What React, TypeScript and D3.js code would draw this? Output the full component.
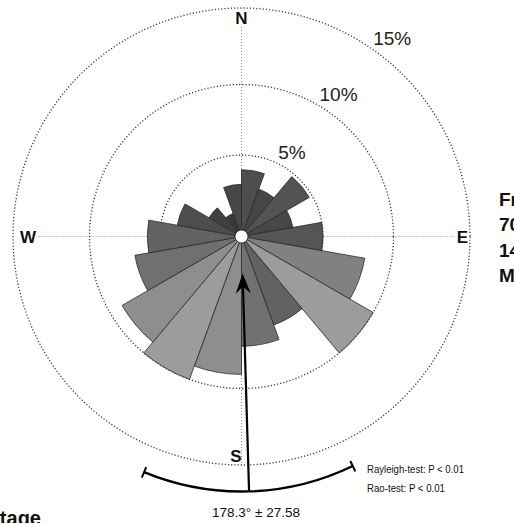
import React from 'react';
import * as d3 from 'd3';

// ---- data ----
const binStartDeg = [0, 20, 40, 60, 80, 100, 120, 140, 160, 180, 200, 220, 240, 260, 280, 300, 320, 340];
const binPercent = [4.1, 3.1, 4.8, 3.2, 5.0, 8.1, 10.0, 5.9, 7.0, 9.0, 10.0, 9.0, 6.9, 5.9, 4.0, 2.3, 1.5, 3.2];
const binWidthDeg = 20;
const ringValues = [5, 10, 15];
const ringLabels = ['5%', '10%', '15%'];
const compassLabels = ['N', 'E', 'S', 'W'];
const meanAngleDeg = 178.3;
const angularSD = 27.58;
const meanLabel = '178.3° ± 27.58';
const statLines = ['Rayleigh-test: P < 0.01', 'Rao-test: P < 0.01'];
const sideLines = ['Fr', '70', '14', 'M'];
const bottomLabel = 'Percentage';

// ---- layout ----
const W = 514;
const H = 523;
const cx = 241.5;
const cy = 236.5;
const FONT = 'Liberation Sans, Arial, sans-serif';

const rScale = d3.scaleLinear().domain([0, 5, 10, 15]).range([0, 81.5, 152, 228.5]);
const fillScale = d3
  .scaleLinear<string>()
  .domain([1.5, 5, 10])
  .range(['#3a3a3a', '#555555', '#9c9c9c']);

const rad = (d: number) => (d * Math.PI) / 180;
const polar = (r: number, deg: number): [number, number] => [
  cx + r * Math.sin(rad(deg)),
  cy - r * Math.cos(rad(deg)),
];

export default function App() {
  const arcGen = d3.arc<any>();
  const outer = rScale(15);

  // mean vector / error arc geometry
  const arcR = 255;
  const arcHalf = angularSD * 0.876;
  const errArc = d3
    .arc<any>()
    .innerRadius(arcR)
    .outerRadius(arcR)({
      startAngle: rad(meanAngleDeg - arcHalf),
      endAngle: rad(meanAngleDeg + arcHalf),
    } as any);

  const tip = polar(37, meanAngleDeg);
  const notch = polar(50, meanAngleDeg);
  const baseC = polar(57, meanAngleDeg);
  const perp = rad(meanAngleDeg + 90);
  const hw = 7.5;
  const barbL: [number, number] = [baseC[0] - hw * Math.sin(perp), baseC[1] + hw * Math.cos(perp)];
  const barbR: [number, number] = [baseC[0] + hw * Math.sin(perp), baseC[1] - hw * Math.cos(perp)];
  const lineStart = polar(50, meanAngleDeg);
  const lineEnd = polar(arcR, meanAngleDeg);

  const tickA1 = polar(arcR - 5.5, meanAngleDeg - arcHalf);
  const tickA2 = polar(arcR + 6, meanAngleDeg - arcHalf);
  const tickB1 = polar(arcR - 5.5, meanAngleDeg + arcHalf);
  const tickB2 = polar(arcR + 6, meanAngleDeg + arcHalf);

  return (
    <svg
      width={W}
      height={H}
      style={{ position: 'absolute', left: 0, top: 0, background: '#fff', overflow: 'hidden' }}
      fontFamily={FONT}
    >
      <rect x={0} y={0} width={W} height={H} fill="#fff" />

      {/* axis cross lines */}
      <line x1={cx - 203} y1={cy} x2={cx + 213} y2={cy} stroke="#8a8a8a" strokeWidth={1} strokeDasharray="1 2" />
      <line x1={cx} y1={27} x2={cx} y2={cy + outer} stroke="#8a8a8a" strokeWidth={1} strokeDasharray="1 2" />

      {/* dotted rings */}
      {ringValues.map((v) => (
        <circle
          key={v}
          cx={cx}
          cy={cy}
          r={rScale(v)}
          fill="none"
          stroke="#3a3a3a"
          strokeWidth={1.3}
          strokeDasharray="1.2 2"
        />
      ))}

      {/* rose wedges */}
      <g transform={`translate(${cx},${cy})`}>
        {binStartDeg.map((s, i) => (
          <path
            key={s}
            d={
              arcGen({
                innerRadius: 0,
                outerRadius: rScale(binPercent[i]),
                startAngle: rad(s),
                endAngle: rad(s + binWidthDeg),
              } as any) || ''
            }
            fill={fillScale(binPercent[i])}
            stroke="#2a2a2a"
            strokeWidth={0.8}
            strokeLinejoin="round"
          />
        ))}
      </g>

      {/* center hole */}
      <circle cx={cx} cy={cy} r={6.5} fill="#fff" stroke="#222" strokeWidth={0.8} />

      {/* ring labels */}
      {ringValues.map((v, i) => {
        const ang = 25.5 + (v - 5) * 0.9;
        const [x, y] = polar(rScale(v) + 4, ang);
        return (
          <text key={v} x={x} y={y} fontSize={19} fill="#222" textAnchor="start">
            {ringLabels[i]}
          </text>
        );
      })}

      {/* compass labels */}
      <text x={cx} y={24} fontSize={17} fontWeight="bold" textAnchor="middle" fill="#111">
        {compassLabels[0]}
      </text>
      <text x={468} y={243} fontSize={17} fontWeight="bold" textAnchor="end" fill="#111">
        {compassLabels[1]}
      </text>
      <text x={241.5} y={461.5} fontSize={17} fontWeight="bold" textAnchor="end" fill="#111">
        {compassLabels[2]}
      </text>
      <text x={20} y={243} fontSize={17} fontWeight="bold" textAnchor="start" fill="#111">
        {compassLabels[3]}
      </text>

      {/* mean vector */}
      <line
        x1={lineStart[0]}
        y1={lineStart[1]}
        x2={lineEnd[0]}
        y2={lineEnd[1]}
        stroke="#000"
        strokeWidth={2.2}
      />
      <path
        d={`M${tip[0]},${tip[1]}L${barbL[0]},${barbL[1]}L${notch[0]},${notch[1]}L${barbR[0]},${barbR[1]}Z`}
        fill="#000"
      />

      {/* error arc */}
      <g transform={`translate(${cx},${cy})`}>
        <path d={errArc || ''} fill="none" stroke="#000" strokeWidth={2.4} />
      </g>
      <line x1={tickA1[0]} y1={tickA1[1]} x2={tickA2[0]} y2={tickA2[1]} stroke="#000" strokeWidth={2} />
      <line x1={tickB1[0]} y1={tickB1[1]} x2={tickB2[0]} y2={tickB2[1]} stroke="#000" strokeWidth={2} />

      <text x={256} y={516.5} fontSize={13} textAnchor="middle" fill="#111" textLength={88} lengthAdjust="spacingAndGlyphs">
        {meanLabel}
      </text>

      {/* statistics */}
      <text x={367} y={472.5} fontSize={11} fill="#111" textLength={97} lengthAdjust="spacingAndGlyphs">
        {statLines[0]}
      </text>
      <text x={367} y={492} fontSize={11} fill="#111" textLength={78} lengthAdjust="spacingAndGlyphs">
        {statLines[1]}
      </text>

      {/* side block (cut off at edge, as in the source figure) */}
      {sideLines.map((t, i) => (
        <text key={i} x={499} y={206 + i * 25.4} fontSize={19} fontWeight="bold" fill="#111">
          {t}
        </text>
      ))}

      {/* bottom label (cut off, as in the source figure) */}
      <text x={41} y={525} fontSize={20} fontWeight="bold" textAnchor="end" fill="#111">
        {bottomLabel}
      </text>
    </svg>
  );
}
